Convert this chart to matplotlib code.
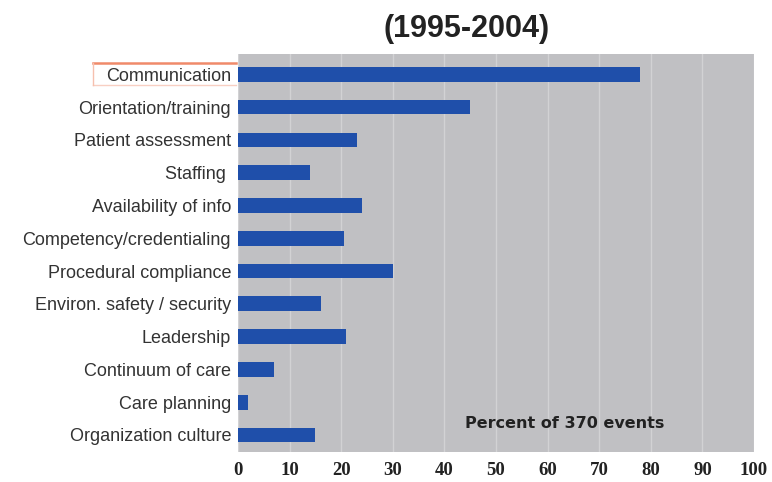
import matplotlib
matplotlib.use("Agg")
import matplotlib.pyplot as plt
from matplotlib.lines import Line2D

categories = [
    "Communication",
    "Orientation/training",
    "Patient assessment",
    "Staffing ",
    "Availability of info",
    "Competency/credentialing",
    "Procedural compliance",
    "Environ. safety / security",
    "Leadership",
    "Continuum of care",
    "Care planning",
    "Organization culture",
]
percent = [78, 45, 23, 14, 24, 20.5, 30, 16, 21, 7, 2, 15]
x_ticks = [0, 10, 20, 30, 40, 50, 60, 70, 80, 90, 100]

fig = plt.figure(figsize=(7.72, 4.82), dpi=100)
fig.patch.set_facecolor("white")
ax = fig.add_axes([238 / 772, 1 - 452 / 482, 516 / 772, 398 / 482])
ax.set_facecolor("#c0c0c3")

ypos = list(range(len(categories)))
ax.barh(ypos, percent, height=0.45, color="#1f4faa", zorder=3)

ax.set_xlim(0, 100)
ax.set_ylim(11.52, -0.62)
ax.set_yticks(ypos)
ax.set_yticklabels(categories, fontsize=13, color="#333333",
                   family="Liberation Sans")
ax.set_xticks(x_ticks)
ax.set_xticklabels([str(t) for t in x_ticks], fontsize=13.5, fontweight="bold",
                   family="Liberation Serif", color="#222222")
ax.tick_params(axis="both", length=0, pad=5)
ax.tick_params(axis="x", pad=7)
ax.grid(axis="x", color="#d2d2d4", linewidth=1.0, zorder=1)
for s in ax.spines.values():
    s.set_visible(False)

ax.text(0.633, 0.072, "Percent of 370 events", transform=ax.transAxes,
        ha="center", va="center",
        fontsize=11.5, fontweight="bold", color="#222222", family="DejaVu Sans")

fig.text(0.605, 0.94, "(1995-2004)", ha="center", va="center",
         fontsize=22, fontweight="bold", color="#222222", family="Liberation Sans")

# highlight box around the first category label
top_y, bottom_y = 1 - 63 / 482, 1 - 85 / 482
left_x, right_x = 93 / 772, 236 / 772
fig.add_artist(Line2D([left_x, right_x], [top_y, top_y],
                      color="#f08a6a", linewidth=1.8))
fig.add_artist(Line2D([left_x, right_x], [bottom_y, bottom_y],
                      color="#f8cfc2", linewidth=1.0))
fig.add_artist(Line2D([left_x, left_x], [top_y, bottom_y],
                      color="#f6c0ae", linewidth=1.0))

fig.savefig("out.png", dpi=100)
